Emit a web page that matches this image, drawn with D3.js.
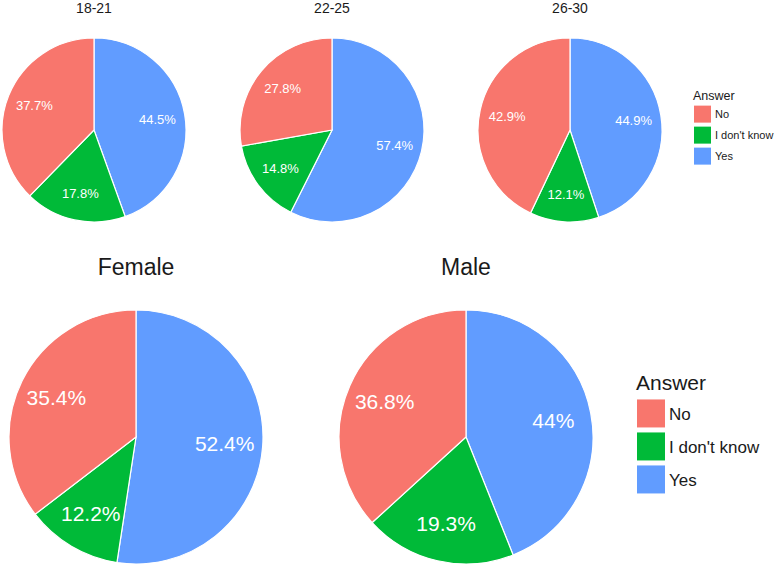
<!DOCTYPE html>
<html><head><meta charset="utf-8">
<script src="https://cdn.jsdelivr.net/npm/d3@7"></script>
<style>body{margin:0;background:#fff}svg{display:block;font-family:"Liberation Sans",Arial,sans-serif}</style>
</head><body>
<svg id="c" width="777" height="566"></svg>
<script>
const answers = ["Yes", "I don't know", "No"];
const legendOrder = ["No", "I don't know", "Yes"];
const colors = ["#619CFF", "#00BA38", "#F8766D"];
const ageGroups = ["18-21", "22-25", "26-30"];
const ageYes = [44.5, 57.4, 44.9];
const ageIdk = [17.8, 14.8, 12.1];
const ageNo = [37.7, 27.8, 42.9];
const genders = ["Female", "Male"];
const genderYes = [52.4, 44];
const genderIdk = [12.2, 19.3];
const genderNo = [35.4, 36.8];

const svg = d3.select("#c");
const color = d3.scaleOrdinal().domain(answers).range(colors);
const pie = d3.pie().sort(null).value(d => d.v);

function drawPie(cx, cy, r, title, vals, titleSize, labelSize, titleY) {
  const g = svg.append("g").attr("transform", `translate(${cx},${cy})`);
  const data = answers.map((a, i) => ({a, v: vals[i]}));
  const arcs = pie(data);
  const arc = d3.arc().innerRadius(0).outerRadius(r);
  const lab = d3.arc().innerRadius(r * 0.7).outerRadius(r * 0.7);
  g.selectAll("path").data(arcs).join("path")
    .attr("d", arc).attr("fill", d => color(d.data.a))
    .attr("stroke", "#fff").attr("stroke-width", 1.2);
  g.selectAll("text.l").data(arcs).join("text").attr("class", "l")
    .attr("transform", d => `translate(${lab.centroid(d)})`)
    .attr("text-anchor", "middle").attr("dy", "0.36em")
    .attr("fill", "#fff").attr("font-size", labelSize)
    .text(d => (+d.data.v.toFixed(1)) + "%");
  svg.append("text").attr("x", cx).attr("y", titleY)
    .attr("text-anchor", "middle").attr("font-size", titleSize).attr("fill", "#1a1a1a")
    .text(title);
}

const topCx = [94, 332, 570];
ageGroups.forEach((g, i) => drawPie(topCx[i], 130, 92, g, [ageYes[i], ageIdk[i], ageNo[i]], 14, 13, 13));
const botCx = [136, 466];
genders.forEach((g, i) => drawPie(botCx[i], 437, 127, g, [genderYes[i], genderIdk[i], genderNo[i]], 23, 21, 275));

function legend(x, y, key, gap, titleSize, labelSize) {
  const g = svg.append("g").attr("transform", `translate(${x},${y})`);
  g.append("text").attr("x", 0).attr("y", 0).attr("font-size", titleSize).attr("fill", "#1a1a1a").text("Answer");
  legendOrder.forEach((a, i) => {
    const yy = titleSize * 0.45 + i * (key + gap);
    g.append("rect").attr("x", 1).attr("y", yy).attr("width", key).attr("height", key).attr("fill", color(a));
    g.append("text").attr("x", key + 5).attr("y", yy + key / 2).attr("dy", "0.36em")
      .attr("font-size", labelSize).attr("fill", "#1a1a1a").text(a);
  });
}
legend(693, 100, 17, 4, 12.5, 11);
legend(636, 390, 28, 5, 21, 17);
</script>
</body></html>
